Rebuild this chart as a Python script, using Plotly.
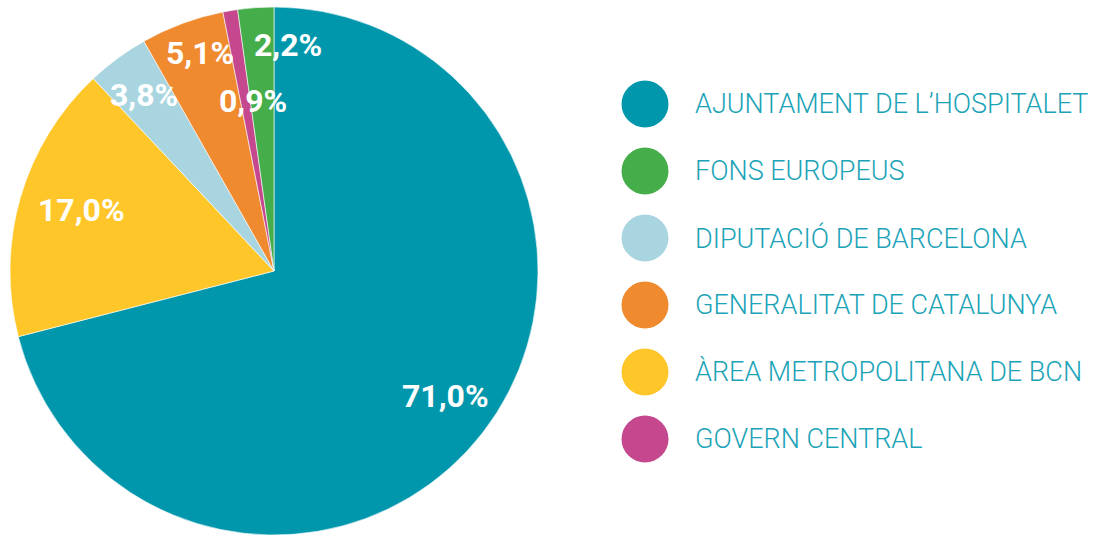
import math
import plotly.graph_objects as go

# Data (slice order, clockwise from 12 o'clock)
labels = ["AJUNTAMENT DE L’HOSPITALET", "ÀREA METROPOLITANA DE BCN", "DIPUTACIÓ DE BARCELONA",
          "GENERALITAT DE CATALUNYA", "GOVERN CENTRAL", "FONS EUROPEUS"]
values = [71.0, 17.0, 3.8, 5.1, 0.9, 2.2]
colors = ["#0097AC", "#FFC629", "#A8D5E0", "#F08A2F", "#C5478D", "#45AE4B"]

# Legend order as shown
legend_order = ["AJUNTAMENT DE L’HOSPITALET", "FONS EUROPEUS", "DIPUTACIÓ DE BARCELONA",
                "GENERALITAT DE CATALUNYA", "ÀREA METROPOLITANA DE BCN", "GOVERN CENTRAL"]

# Label placement (radial fraction, px shifts) - style only
label_r = [0.80, 0.76, 0.83, 0.87, 0.64, 0.86]
label_dx = [5, 0, 0, 6, 7, 30]
label_dy = [-4, -5, 0, -3, -3, 0]

W, H = 1097, 536
cx, cy, R = 274, 271, 264

fig = go.Figure()
fig.add_trace(go.Pie(
    labels=labels, values=values, sort=False, direction="clockwise", rotation=0,
    marker=dict(colors=colors, line=dict(color="white", width=0.6)),
    textinfo="none", hoverinfo="label+percent", showlegend=False,
    domain=dict(x=[(cx - R) / W, (cx + R) / W], y=[(H - cy - R) / H, (H - cy + R) / H]),
))

def fmt(v):
    return f"{v:.1f}".replace(".", ",") + "%"

cum = 0.0
total = sum(values)
for i, v in enumerate(values):
    mid = (cum + v / 2) / total * 2 * math.pi
    cum += v
    px = cx + label_r[i] * R * math.sin(mid) + label_dx[i]
    py = cy - label_r[i] * R * math.cos(mid) + label_dy[i]
    fig.add_annotation(x=px / W, y=1 - py / H, xref="paper", yref="paper",
                       text=fmt(v), showarrow=False, xanchor="center", yanchor="middle",
                       font=dict(family="Roboto", size=32, color="white", weight="bold"))

# Custom legend
row_y0, row_step = 104, 67
for j, name in enumerate(legend_order):
    col = colors[labels.index(name)]
    yc = row_y0 + j * row_step
    fig.add_shape(type="circle", xref="paper", yref="paper",
                  x0=(645 - 23.5) / W, x1=(645 + 23.5) / W,
                  y0=1 - (yc + 23.5) / H, y1=1 - (yc - 23.5) / H,
                  fillcolor=col, line=dict(width=0))
    fig.add_annotation(x=693 / W, y=1 - yc / H, xref="paper", yref="paper",
                       text=name, showarrow=False, xanchor="left", yanchor="middle",
                       font=dict(family="Roboto", size=27, color="#1BA3B7", weight=300))

fig.update_layout(width=W, height=H, margin=dict(l=0, r=0, t=0, b=0),
                  paper_bgcolor="white", plot_bgcolor="white")
fig.write_html("out.html", config={"displayModeBar": False},
               post_script="document.body.style.margin='0';document.body.style.overflow='hidden';")
